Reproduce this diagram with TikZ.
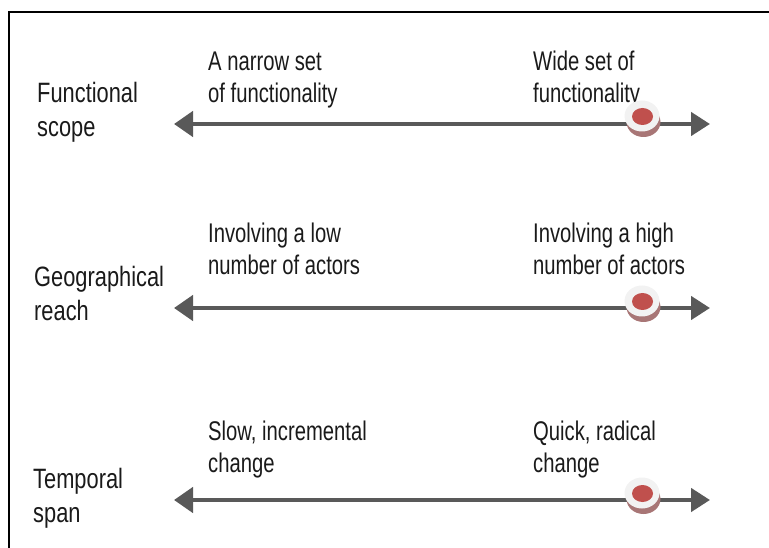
\documentclass[tikz,border=0pt]{standalone}
\usepackage{fontspec}
\setmainfont{Liberation Sans}
\newfontfamily\sidefont[FakeStretch=0.78]{Liberation Sans}
\newfontfamily\endfont[FakeStretch=0.75]{Liberation Sans}
\usetikzlibrary{arrows.meta}
\definecolor{axisgray}{HTML}{595959}
\definecolor{txt}{HTML}{1A1A1A}
\definecolor{puckred}{HTML}{C0504D}
\definecolor{puckface}{HTML}{F2F2F2}
\definecolor{puckside}{HTML}{A87676}
\tikzset{
  sidelabel/.style={anchor=base west, inner sep=0pt, align=left, text=txt,
    font=\sidefont\fontsize{28}{34}\selectfont},
  endlabel/.style={anchor=base west, inner sep=0pt, align=left, text=txt,
    font=\endfont\fontsize{27}{32}\selectfont},
  axisline/.style={draw=axisgray, line width=4.5pt,
    {Triangle[length=19pt,width=25pt]}-{Triangle[length=19pt,width=23pt]}},
  frameline/.style={draw=black, line width=2pt}
}
\newcommand{\puck}[2]{%
  \fill[puckside] (#1+1.5,#2+6) ellipse [x radius=17pt, y radius=15pt];
  \fill[puckface] (#1,#2) ellipse [x radius=17.5pt, y radius=15.5pt];
  \fill[puckred] (#1+0.5,#2+0.5) ellipse [x radius=10.5pt, y radius=8.5pt];
}
\begin{document}
\begin{tikzpicture}[x=1pt,y=-1pt]
\useasboundingbox (0,0) rectangle (769,548);
\draw[frameline] (9,548) -- (9,12.5) -- (769,12.5);

% row 1
\node[sidelabel] (fs) at (37,137) {Functional\\scope};
\node[endlabel] (fs-lo) at (208,103) {A narrow set\\of functionality};
\node[endlabel] (fs-hi) at (533,103) {Wide set of\\functionality};
\coordinate (a1l) at (174,124);
\coordinate (a1r) at (710,124);
\draw[axisline] (a1l) -- (a1r);
\puck{642}{116}

% row 2
\node[sidelabel] (gr) at (34,320) {Geographical\\reach};
\node[endlabel] (gr-lo) at (208,275) {Involving a low\\number of actors};
\node[endlabel] (gr-hi) at (533,275) {Involving a high\\number of actors};
\coordinate (a2l) at (174,308);
\coordinate (a2r) at (710,308);
\draw[axisline] (a2l) -- (a2r);
\puck{642}{301}

% row 3
\node[sidelabel] (ts) at (33,522) {Temporal\\span};
\node[endlabel] (ts-lo) at (208,472) {Slow, incremental\\change};
\node[endlabel] (ts-hi) at (533,472) {Quick, radical\\change};
\coordinate (a3l) at (174,500);
\coordinate (a3r) at (710,500);
\draw[axisline] (a3l) -- (a3r);
\puck{642}{493}
\end{tikzpicture}
\end{document}
